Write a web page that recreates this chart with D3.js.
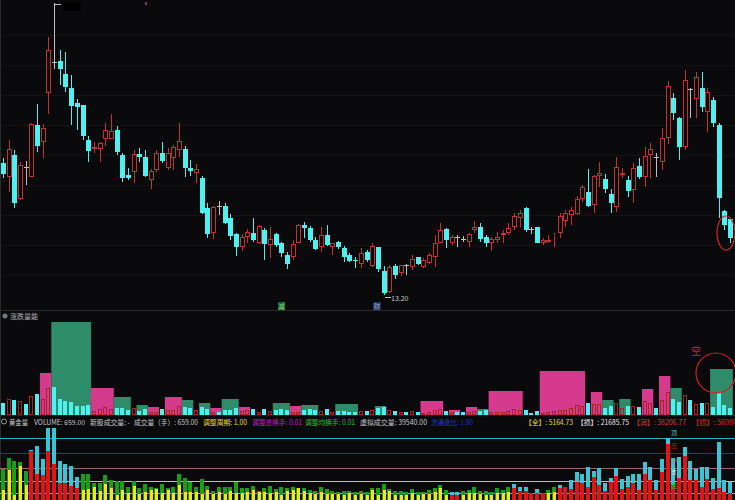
<!DOCTYPE html>
<html>
<head>
<meta charset="utf-8">
<title>K线 涨跌量能 黄金量</title>
<script src="https://d3js.org/d3.v7.min.js"></script>
<style>
  html, body { margin: 0; padding: 0; background: #0a0a0c; overflow: hidden; }
  svg { display: block; }
  text { font-family: "Noto Sans CJK SC", "Noto Sans", sans-serif; }
</style>
</head>
<body>
<svg width="735" height="500"></svg>
<script>
// ---- 日K数据 (开 高 低 收) ----
const open = [
  18.48, 17.92, 18.80, 17.04, 18.32, 17.92, 20.00, 19.32, 21.28, 22.52,
  22.56, 22.04, 21.48, 20.88, 20.80, 19.40, 19.04, 19.04, 19.44, 19.44,
  19.80, 18.80, 18.00, 18.12, 18.84, 18.72, 17.80, 18.20, 18.88, 18.28,
  18.68, 19.00, 19.04, 18.28, 18.08, 17.88, 16.68, 15.68, 16.76, 16.76,
  16.28, 15.64, 15.12, 15.52, 15.68, 15.28, 15.80, 15.20, 15.64, 15.28,
  14.80, 14.72, 15.28, 16.00, 15.88, 15.40, 15.12, 15.60, 15.12, 15.32,
  15.08, 14.80, 14.60, 14.44, 14.92, 14.36, 15.12, 14.16, 13.32, 14.36,
  14.08, 14.40, 14.32, 14.72, 14.32, 14.48, 14.72, 15.28, 15.84, 15.28,
  15.52, 15.44, 15.32, 15.80, 15.92, 15.52, 15.28, 15.40, 15.60, 15.68,
  15.92, 16.28, 16.68, 15.84, 15.92, 15.28, 15.32, 15.56, 15.68, 16.16,
  16.40, 16.44, 17.04, 17.32, 16.80, 17.96, 17.84, 17.24, 16.72, 18.00,
  17.80, 17.40, 18.36, 17.92, 18.80, 18.72, 18.52, 19.48, 21.08, 20.28,
  19.12, 21.44, 21.04, 21.48, 20.52, 21.00, 20.00, 16.56, 16.24
];
const high = [
  18.68, 19.40, 19.00, 18.52, 18.56, 20.08, 20.84, 20.04, 23.52, 24.88,
  23.00, 22.92, 22.00, 21.04, 20.80, 19.56, 19.32, 19.32, 20.08, 20.44,
  19.96, 18.88, 18.28, 19.00, 19.08, 19.00, 18.24, 19.00, 19.32, 19.08,
  19.20, 20.08, 19.16, 18.60, 18.44, 17.96, 16.88, 16.76, 16.96, 16.88,
  16.44, 15.68, 15.64, 15.84, 16.28, 16.00, 15.88, 15.92, 15.68, 15.32,
  14.92, 15.40, 16.04, 16.12, 15.96, 15.52, 15.92, 16.00, 15.28, 15.36,
  15.16, 14.88, 14.72, 15.08, 15.00, 15.28, 15.12, 14.36, 14.40, 14.44,
  14.40, 14.44, 14.80, 14.72, 14.68, 14.88, 15.60, 16.08, 15.88, 15.60,
  15.60, 15.56, 15.68, 16.16, 16.08, 15.60, 15.52, 15.72, 15.80, 16.08,
  16.48, 16.60, 16.72, 15.92, 15.92, 15.48, 15.60, 15.68, 16.48, 16.60,
  16.72, 17.16, 17.60, 18.24, 18.00, 18.52, 18.04, 17.44, 18.72, 18.28,
  17.96, 18.48, 18.68, 19.12, 19.28, 18.88, 19.88, 21.76, 21.28, 20.32,
  22.20, 21.48, 22.12, 22.12, 21.48, 21.12, 20.08, 16.60, 16.28
];
const low = [
  17.88, 17.32, 16.68, 17.00, 17.60, 17.92, 18.92, 18.68, 20.44, 22.24,
  21.60, 21.32, 20.00, 19.80, 19.40, 18.52, 18.88, 18.52, 19.16, 19.44,
  18.80, 17.72, 17.80, 17.68, 18.52, 17.92, 17.44, 18.12, 18.48, 18.20,
  18.20, 18.72, 17.92, 17.96, 17.68, 16.44, 15.48, 15.44, 16.40, 16.04,
  15.40, 14.76, 14.96, 15.28, 15.32, 15.24, 14.60, 14.68, 15.12, 14.72,
  14.24, 14.60, 15.28, 15.48, 15.32, 15.00, 14.92, 15.16, 14.80, 15.04,
  14.52, 14.52, 14.28, 14.28, 14.52, 14.32, 14.12, 13.20, 13.28, 13.84,
  13.96, 14.00, 14.20, 14.40, 14.28, 14.44, 14.32, 15.28, 15.08, 15.20,
  15.12, 15.32, 15.12, 15.68, 15.32, 15.12, 14.96, 15.28, 15.28, 15.60,
  15.80, 15.92, 15.72, 15.64, 15.28, 15.20, 15.28, 15.12, 15.48, 15.92,
  16.00, 16.40, 16.92, 16.72, 16.48, 17.52, 17.28, 16.48, 16.52, 17.88,
  17.12, 16.88, 17.84, 17.52, 17.88, 17.92, 18.20, 19.24, 20.20, 18.60,
  19.00, 20.28, 20.28, 20.52, 19.72, 19.92, 16.28, 15.80, 15.28
];
const close = [
  18.04, 19.04, 16.88, 18.40, 18.32, 20.04, 19.16, 19.88, 23.00, 22.52,
  22.24, 21.52, 20.76, 20.72, 19.56, 18.96, 19.12, 19.28, 19.80, 19.76,
  18.92, 17.88, 17.88, 18.84, 18.72, 17.96, 18.16, 18.88, 18.56, 18.88,
  19.12, 19.36, 18.28, 18.16, 18.24, 16.48, 15.64, 16.72, 16.76, 16.08,
  15.56, 15.12, 15.52, 15.72, 15.40, 15.96, 15.24, 15.44, 15.20, 14.88,
  14.44, 15.24, 16.00, 15.88, 15.40, 15.04, 15.60, 15.20, 15.28, 15.12,
  14.72, 14.56, 14.56, 14.88, 14.60, 15.16, 14.24, 13.28, 14.32, 14.00,
  14.40, 14.40, 14.64, 14.44, 14.60, 14.80, 15.28, 15.80, 15.40, 15.52,
  15.52, 15.44, 15.64, 15.92, 15.44, 15.28, 15.44, 15.52, 15.68, 15.88,
  16.36, 16.48, 15.80, 15.84, 15.28, 15.40, 15.40, 15.60, 16.36, 16.48,
  16.60, 17.04, 17.52, 16.76, 17.96, 18.08, 17.44, 16.88, 18.32, 18.08,
  17.36, 18.28, 17.92, 18.76, 19.04, 18.72, 19.48, 21.56, 20.48, 19.12,
  21.80, 21.44, 21.92, 20.72, 21.32, 20.08, 17.08, 16.00, 15.48
];
const gridPrices = [14.0, 15.2, 16.4, 17.6, 18.8, 20.0, 21.2, 22.4, 23.6];
const lowLabel = "13.20";

// ---- 涨跌量能 ----
const volume = [
  12, 16, 15, 14, 11, 19, 21, 16, 27, 28,
  16, 14, 13, 9, 9, 10, 4, 6, 8, 6,
  7, 7, 5, 7, 4, 6, 3, 3, 6, 5,
  5, 9, 8, 7, 5, 8, 6, 3, 3, 5,
  5, 7, 4, 5, 6, 3, 6, 4, 5, 6,
  5, 3, 3, 5, 6, 5, 4, 6, 3, 4,
  4, 3, 3, 4, 4, 5, 7, 8, 5, 4,
  3, 3, 4, 3, 2, 3, 5, 6, 4, 3,
  3, 3, 3, 4, 4, 5, 3, 3, 3, 4,
  6, 5, 5, 2, 4, 2, 3, 4, 5, 5,
  7, 10, 9, 12, 11, 11, 7, 9, 12, 7,
  9, 9, 8, 14, 12, 7, 15, 23, 16, 13,
  20, 15, 11, 12, 12, 8, 22, 10, 7
];
const blockStart = [7, 9, 16, 20, 24, 26, 29, 32, 35, 37, 39, 42, 48, 51, 53, 59, 66, 74, 79, 82, 84, 86, 95, 104, 106, 109, 113, 116, 118, 125];
const blockEnd   = [8, 15, 19, 22, 25, 27, 31, 33, 36, 38, 41, 43, 50, 52, 55, 62, 67, 77, 80, 83, 85, 91, 102, 105, 107, 110, 114, 117, 119, 128];
const blockValue = [42, 93, 27, 18, 10, 8, 18, 15, 12, 7, 16, 8, 12, 9, 10, 11, 9, 14, 5, 8, 6, 24, 44, 23, 15, 16, 26, 39, 27, 46];
const blockKind  = ["up", "down", "up", "down", "down", "up", "up", "down", "down", "up",
                    "down", "up", "down", "up", "down", "down", "down", "up", "up", "up",
                    "down", "up", "up", "up", "down", "down", "up", "up", "down", "down"];

// ---- 黄金量 ----
const flowTotal = [
  31, 42, 39, 38, 29, 50, 54, 41, 72, 72,
  39, 36, 34, 23, 26, 26, 17, 17, 25, 20,
  19, 19, 13, 19, 12, 16, 13, 12, 16, 12,
  13, 26, 22, 18, 13, 21, 14, 9, 13, 13,
  13, 18, 12, 12, 14, 9, 12, 14, 11, 13,
  12, 13, 12, 12, 10, 9, 13, 11, 9, 8,
  9, 9, 8, 9, 8, 12, 12, 16, 11, 9,
  9, 8, 11, 8, 8, 10, 12, 15, 10, 8,
  8, 9, 10, 13, 9, 9, 8, 12, 10, 13,
  16, 13, 13, 7, 11, 7, 10, 13, 15, 13,
  20, 28, 26, 33, 29, 32, 17, 22, 32, 21,
  24, 26, 26, 38, 33, 20, 41, 62, 42, 43,
  53, 39, 31, 33, 33, 22, 58, 20, 18
];
const flowLower = [
  10, 30, 5, 34, 15, 49, 26, 25, 49, 36,
  17, 17, 14, 12, 10, 11, 13, 9, 16, 12,
  5, 10, 7, 14, 6, 8, 10, 11, 7, 10,
  7, 15, 8, 8, 8, 6, 10, 6, 8, 6,
  9, 7, 7, 8, 10, 8, 8, 7, 8, 5,
  9, 10, 12, 9, 7, 6, 8, 6, 6, 6,
  5, 7, 5, 6, 5, 10, 5, 10, 9, 5,
  5, 5, 7, 5, 6, 6, 8, 12, 5, 5,
  5, 5, 7, 7, 6, 5, 5, 7, 7, 8,
  12, 9, 9, 7, 7, 7, 7, 8, 12, 13,
  11, 18, 17, 13, 23, 15, 9, 18, 24, 11,
  13, 17, 10, 26, 20, 10, 28, 56, 15, 22,
  44, 20, 20, 13, 21, 11, 12, 8, 7
];
// 柱子类型: g = 绿/黄, r = 红/青
const flowRuns = [["g", 5], ["r", 9], ["g", 65], ["r", 2], ["g", 9], ["r", 6], ["g", 2], ["r", 31]];
const flowLevels = [62, 47, 32, 19, 7];
const flowLevelColors = ["#27b3b3", "#8a1a1a", "#946a6a", "#bdbdbd", "#b4b43a"];
// 柱上的提示字
const flowTags = ["顶", "压", "中", "支", "底"];
const flowTagValues = [68, 55, 40, 29, 15];
const flowTagColors = ["#3cc4d4", "#c01818", "#c86a8a", "#e0e0e0", "#30c030"];
const flowTagIndex = 118;

const headerItems = [
  { t: "黄金量", x: 9, w: 19, c: "#c8c8c8" },
  { t: "VOLUME: 659.00", x: 34, w: 51, c: "#c8c8c8" },
  { t: "新股成交量: -", x: 90, w: 40, c: "#c8c8c8" },
  { t: "成交量（手）: 659.00", x: 134, w: 64, c: "#c8c8c8" },
  { t: "调整周期: 1.00", x: 203, w: 44, c: "#e4dc1c" },
  { t: "调整总换手: 0.01", x: 252, w: 50, c: "#c81cc8" },
  { t: "调整均换手: 0.01", x: 305, w: 50, c: "#1cc81c" },
  { t: "虚拟成交量: 39540.00", x: 360, w: 67, c: "#c8c8c8" },
  { t: "流通盘比: 1.00", x: 431, w: 42, c: "#2030d8" },
  { t: "【全】: 5164.73", x: 525, w: 48, c: "#e4dc1c" },
  { t: "【损】: 21685.75", x: 577, w: 52, c: "#e8e8e8" },
  { t: "【润】: 38206.77", x: 633, w: 53, c: "#d23c3c" },
  { t: "【损】: 56980", x: 692, w: 45, c: "#e01c1c" }
];

// ---- 绘图 ----
const W = 735, H = 500;
const svg = d3.select("svg");
svg.append("rect").attr("width", W).attr("height", H).attr("fill", "#0a0a0c");

const n = open.length;
const x = d3.scaleLinear().domain([0, n - 1]).range([3, 730]);
const step = x(1) - x(0);
const cx = i => Math.round(x(i));

const UP = "#c43230", DOWN = "#4ef0f0", FLAT = "#c0c0c0";
const kind = i => close[i] > open[i] ? "up" : close[i] < open[i] ? "down" : "flat";

// 主图
const y = d3.scaleLinear().domain([13.2, 24.88]).range([295, 3]);
const main = svg.append("g");

main.selectAll("line.grid").data(gridPrices).join("line")
  .attr("x1", 0).attr("x2", W)
  .attr("y1", d => Math.round(y(d)) + 0.5).attr("y2", d => Math.round(y(d)) + 0.5)
  .attr("stroke", "#131315").attr("stroke-width", 1);

const idx = d3.range(n);
const candle = main.selectAll("g.c").data(idx).join("g");

candle.each(function (i) {
  const g = d3.select(this);
  const k = kind(i);
  const col = k === "up" ? UP : k === "down" ? DOWN : FLAT;
  const top = Math.round(y(Math.max(open[i], close[i])));
  const bot = Math.round(y(Math.min(open[i], close[i])));
  const xm = cx(i) + 0.5;
  g.append("line").attr("x1", xm).attr("x2", xm)
    .attr("y1", y(high[i])).attr("y2", top).attr("stroke", col);
  g.append("line").attr("x1", xm).attr("x2", xm)
    .attr("y1", bot).attr("y2", y(low[i])).attr("stroke", col);
  if (k === "up") {
    g.append("rect").attr("x", cx(i) - 1.5).attr("y", top + 0.5)
      .attr("width", 4).attr("height", Math.max(bot - top - 1, 0))
      .attr("fill", "none").attr("stroke", col);
  } else if (k === "down") {
    g.append("rect").attr("x", cx(i) - 2).attr("y", top)
      .attr("width", 5).attr("height", Math.max(bot - top, 1))
      .attr("fill", col);
  } else {
    g.append("line").attr("x1", cx(i) - 2).attr("x2", cx(i) + 3)
      .attr("y1", top + 0.5).attr("y2", top + 0.5).attr("stroke", col);
  }
});

// 最高价标记
const iMax = d3.maxIndex(high), iMin = d3.minIndex(low);
main.append("line")
  .attr("x1", cx(iMax) + 1).attr("x2", cx(iMax) + 7)
  .attr("y1", Math.round(y(high[iMax])) + 1.5).attr("y2", Math.round(y(high[iMax])) + 1.5)
  .attr("stroke", FLAT);
main.append("rect").attr("x", cx(iMax) + 9).attr("y", 2).attr("width", 18).attr("height", 9)
  .attr("fill", "#000");
main.append("rect").attr("x", 145).attr("y", 2).attr("width", 2).attr("height", 3).attr("fill", "#8a2a6a");

// 最低价标记
main.append("line")
  .attr("x1", cx(iMin) + 1).attr("x2", cx(iMin) + 7)
  .attr("y1", Math.round(y(low[iMin])) + 2.5).attr("y2", Math.round(y(low[iMin])) + 2.5)
  .attr("stroke", "#c8c8c8");
main.append("text").attr("x", cx(iMin) + 7).attr("y", y(low[iMin]) + 5.5)
  .attr("font-size", 7).attr("fill", "#c8c8c8").text(lowLabel);

// 信息地雷
main.append("rect").attr("x", 278).attr("y", 302).attr("width", 7).attr("height", 8).attr("fill", "#17612f");
main.append("text").attr("x", 281.5).attr("y", 308.5).attr("text-anchor", "middle")
  .attr("font-size", 6.5).attr("fill", "#7fe07f").text("减");
main.append("rect").attr("x", 373).attr("y", 302).attr("width", 8).attr("height", 8).attr("fill", "#1c2d52");
main.append("text").attr("x", 377).attr("y", 308.5).attr("text-anchor", "middle")
  .attr("font-size", 6.5).attr("fill", "#9fb4e0").text("财");

// 红圈
main.append("ellipse").attr("cx", cx(n - 1) - 4).attr("cy", y(15.68)).attr("rx", 9).attr("ry", 17)
  .attr("fill", "none").attr("stroke", "#d02222").attr("stroke-width", 1.2);

// 分隔线
svg.append("line").attr("x1", 0).attr("x2", W).attr("y1", 310.5).attr("y2", 310.5).attr("stroke", "#2a2a2a");
svg.append("line").attr("x1", 0).attr("x2", W).attr("y1", 415.5).attr("y2", 415.5).attr("stroke", "#1e1e1e");
svg.append("line").attr("x1", 0.5).attr("x2", 0.5).attr("y1", 0).attr("y2", H).attr("stroke", "#2a2a2a");

// 涨跌量能
const yv = d3.scaleLinear().domain([0, 93]).range([415, 322]);
const vol = svg.append("g");
vol.append("circle").attr("cx", 5).attr("cy", 316).attr("r", 2.5).attr("fill", "#777");
vol.append("text").attr("x", 10).attr("y", 319).attr("font-size", 7).attr("fill", "#b0b0b0").text("涨跌量能");

vol.selectAll("rect.block").data(blockStart).join("rect")
  .attr("x", (d, j) => x(d) - step / 2)
  .attr("width", (d, j) => x(blockEnd[j]) - x(d) + step)
  .attr("y", (d, j) => yv(blockValue[j]))
  .attr("height", (d, j) => yv(0) - yv(blockValue[j]))
  .attr("fill", (d, j) => blockKind[j] === "up" ? "#d63a8c" : "#2f8c6a");

vol.selectAll("g.v").data(idx).join("g").each(function (i) {
  const g = d3.select(this);
  const t = Math.round(yv(volume[i]));
  if (kind(i) === "up") {
    g.append("rect").attr("x", cx(i) - 1.5).attr("y", t + 0.5).attr("width", 3)
      .attr("height", 415 - t - 1).attr("fill", "none").attr("stroke", "#a82424");
  } else {
    g.append("rect").attr("x", cx(i) - 2).attr("y", t).attr("width", 4)
      .attr("height", 415 - t).attr("fill", DOWN);
  }
});

vol.append("text").attr("x", 691).attr("y", 355).attr("font-size", 10).attr("fill", "#d02222").text("空");
vol.append("circle").attr("cx", 716).attr("cy", 373).attr("r", 20)
  .attr("fill", "none").attr("stroke", "#d02222").attr("stroke-width", 1.2);

// 黄金量
const yf = d3.scaleLinear().domain([0, 72]).range([500, 428]);
const flowMode = flowRuns.flatMap(([m, c]) => Array(c).fill(m));
const flow = svg.append("g");

flow.selectAll("line.lv").data(flowLevels).join("line")
  .attr("x1", 0).attr("x2", W)
  .attr("y1", d => Math.round(yf(d)) + 0.5).attr("y2", d => Math.round(yf(d)) + 0.5)
  .attr("stroke", (d, j) => flowLevelColors[j]).attr("stroke-width", 1);

flow.selectAll("g.f").data(idx).join("g").each(function (i) {
  const g = d3.select(this);
  const tTot = Math.round(yf(flowTotal[i]));
  const tLow = Math.round(yf(flowLower[i]));
  if (flowMode[i] === "g") {
    g.append("rect").attr("x", cx(i) - 2).attr("y", tTot).attr("width", 4)
      .attr("height", 500 - tTot).attr("fill", "#17a017");
    g.append("rect").attr("x", cx(i) - 1).attr("y", tLow).attr("width", 3)
      .attr("height", 500 - tLow).attr("fill", "#f4e41c");
  } else {
    g.append("rect").attr("x", cx(i) - 2).attr("y", tTot).attr("width", 4)
      .attr("height", tLow - tTot).attr("fill", "#3cc4d4");
    g.append("rect").attr("x", cx(i) - 2).attr("y", tLow).attr("width", 4)
      .attr("height", 500 - tLow).attr("fill", "#e41414");
  }
});

flow.selectAll("text.tag").data(flowTags).join("text")
  .attr("x", cx(flowTagIndex) + 1).attr("y", (d, j) => yf(flowTagValues[j]) + 3)
  .attr("text-anchor", "middle").attr("font-size", 6)
  .attr("fill", (d, j) => flowTagColors[j]).text(d => d);

// 标题栏
const head = svg.append("g");
head.append("circle").attr("cx", 4).attr("cy", 421.5).attr("r", 2.5)
  .attr("fill", "none").attr("stroke", "#999").attr("stroke-width", 1);
head.selectAll("text").data(headerItems).join("text")
  .attr("x", d => d.x).attr("y", 424.5)
  .attr("font-size", 7).attr("fill", d => d.c)
  .attr("textLength", d => d.w).attr("lengthAdjust", "spacingAndGlyphs")
  .text(d => d.t);
</script>
</body>
</html>
